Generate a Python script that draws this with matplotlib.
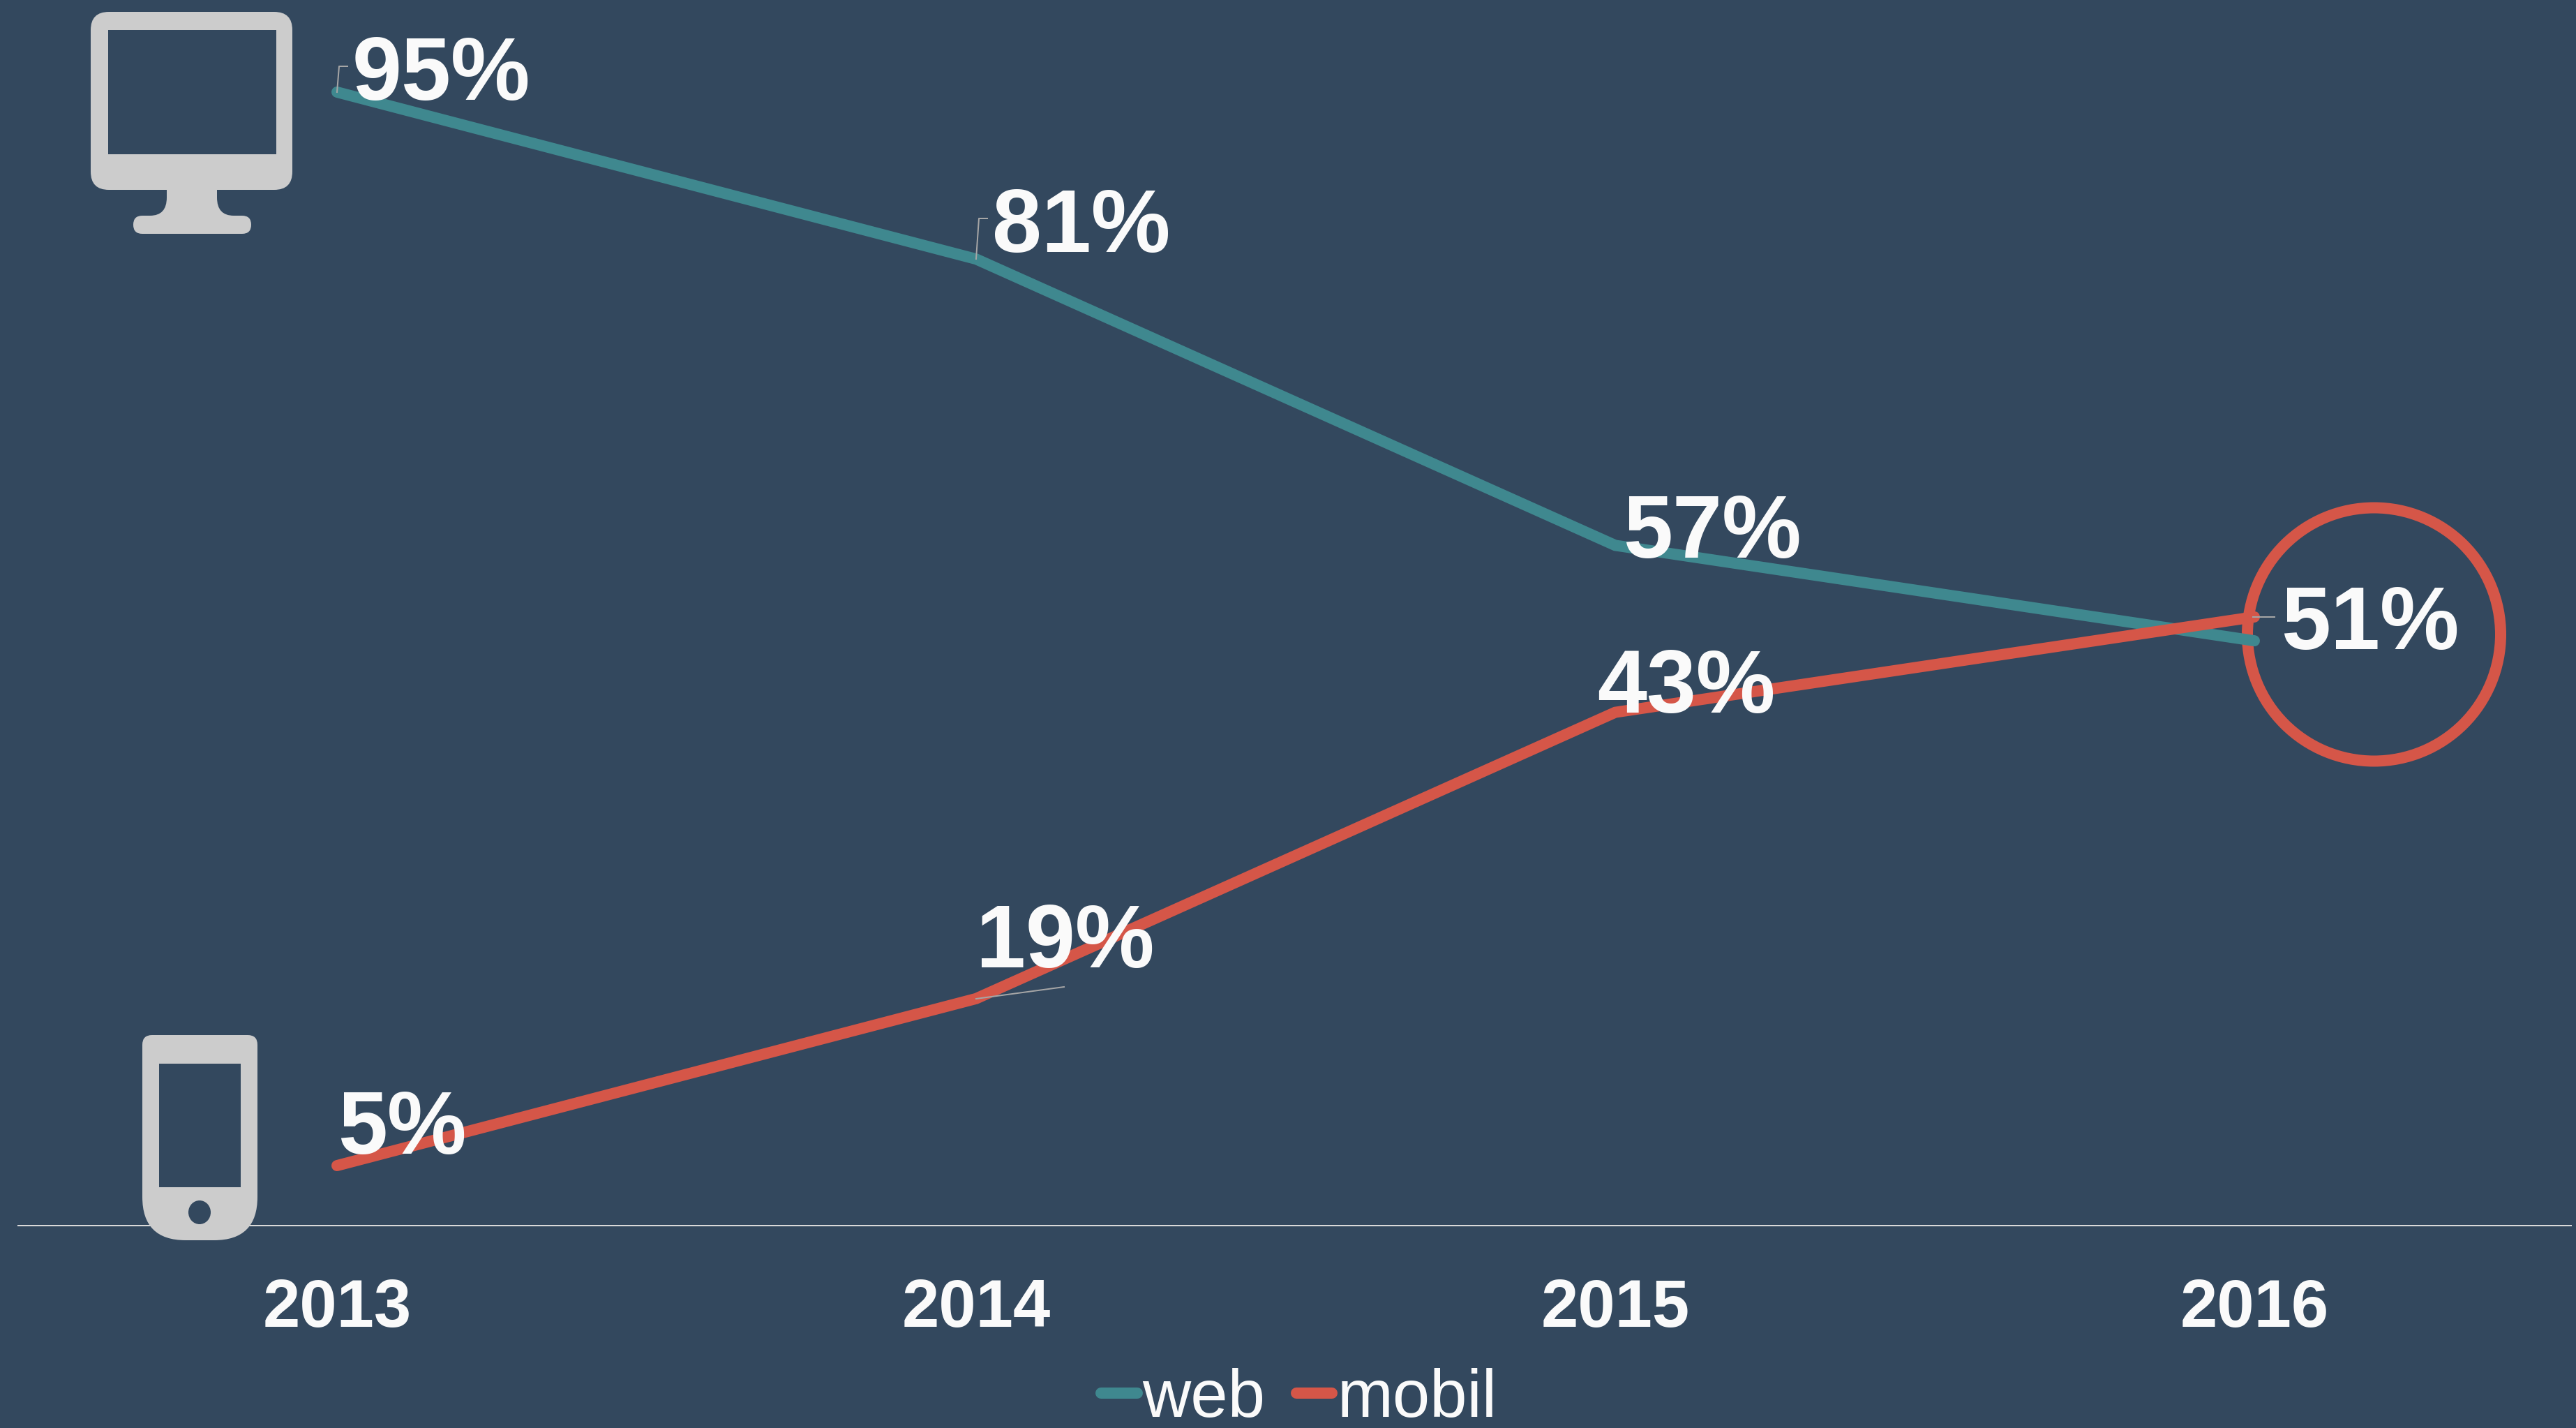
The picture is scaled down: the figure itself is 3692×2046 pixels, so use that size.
import matplotlib
matplotlib.use("Agg")
import matplotlib.pyplot as plt
from matplotlib.path import Path
from matplotlib.patches import Ellipse, PathPatch, Rectangle

plt.rcParams["font.family"] = ["Liberation Sans", "DejaVu Sans"]

years = ["2013", "2014", "2015", "2016"]
web = [95, 81, 57, 49]
mobil = [5, 19, 43, 51]
web_labels = ["95%", "81%", "57%", None]
mobil_labels = ["5%", "19%", "43%", "51%"]

# label offsets from their point, in pixels
web_offsets = [(22, -11), (23, 10), (11, -18), None]
mobil_offsets = [(1, 17), (0, 45), (-26, 0), (38, -46)]

BG = "#33485E"
TEAL = "#3F888F"
RED = "#D55648"
ICON = "#CCCCCC"
WHITE = "#FAFAFA"
LEADER = "#A6A6A6"
WIDTH, HEIGHT = 3692, 2046
PX = 72 / 100


def rounded_path(points):
    # points are (x, y, radius), corners are rounded with quadratic curves
    verts, codes = [], []
    n = len(points)
    for i, (x, y, r) in enumerate(points):
        px, py, _ = points[i - 1]
        nx, ny, _ = points[(i + 1) % n]
        d1 = max(((px - x) ** 2 + (py - y) ** 2) ** 0.5, 1)
        d2 = max(((nx - x) ** 2 + (ny - y) ** 2) ** 0.5, 1)
        start = (x + (px - x) * r / d1, y + (py - y) * r / d1)
        end = (x + (nx - x) * r / d2, y + (ny - y) * r / d2)
        verts += [start, (x, y), end]
        codes += [Path.MOVETO if i == 0 else Path.LINETO, Path.CURVE3, Path.CURVE3]
    verts.append(verts[0])
    codes.append(Path.CLOSEPOLY)
    return Path(verts, codes)


def draw_monitor(ax):
    ax.add_patch(PathPatch(rounded_path([
        (130, 17, 26), (419, 17, 26), (419, 272, 26), (130, 272, 26),
    ]), fc=ICON, ec="none"))
    ax.add_patch(Rectangle((155, 43), 241, 178, fc=BG, ec="none"))
    neck = Path(
        [(239, 268), (311, 268), (311, 283), (311, 309), (335, 309), (215, 309), (239, 309), (239, 283), (239, 268)],
        [Path.MOVETO, Path.LINETO, Path.LINETO, Path.CURVE3, Path.CURVE3, Path.LINETO, Path.CURVE3, Path.CURVE3, Path.CLOSEPOLY],
    )
    ax.add_patch(PathPatch(neck, fc=ICON, ec="none"))
    ax.add_patch(PathPatch(rounded_path([
        (191, 309, 13), (360, 309, 13), (360, 335, 13), (191, 335, 13),
    ]), fc=ICON, ec="none"))


def draw_phone(ax):
    ax.add_patch(PathPatch(rounded_path([
        (204, 1483, 14), (369, 1483, 14), (369, 1777, 62), (204, 1777, 62),
    ]), fc=ICON, ec="none"))
    ax.add_patch(Rectangle((228, 1524), 117, 177, fc=BG, ec="none"))
    ax.add_patch(Ellipse((286, 1737), 32, 34, fc=BG, ec="none"))


fig = plt.figure(figsize=(WIDTH / 100, HEIGHT / 100), dpi=100, facecolor=BG)
ax = fig.add_axes([25 / WIDTH, 1 - 1755.5 / HEIGHT, 3664 / WIDTH, 1709 / HEIGHT])
ax.patch.set_alpha(0)
ax.set_zorder(1)

overlay = fig.add_axes([0, 0, 1, 1])
overlay.set_xlim(0, WIDTH)
overlay.set_ylim(HEIGHT, 0)
overlay.axis("off")
overlay.set_zorder(2)

line_web, = ax.plot(years, web, color=TEAL, lw=16 * PX, solid_capstyle="round", solid_joinstyle="miter", zorder=3, label="web")
line_mobil, = ax.plot(years, mobil, color=RED, lw=16 * PX, solid_capstyle="round", solid_joinstyle="miter", zorder=4, label="mobil")
ax.set_xlim(-0.5, 3.5)
ax.set_ylim(0, 100)
ax.set_yticks([])

for spine in ["top", "left", "right"]:
    ax.spines[spine].set_visible(False)
ax.spines["bottom"].set_color("#D9D9D9")
ax.spines["bottom"].set_linewidth(2 * PX)
ax.spines["bottom"].set_bounds(-0.499, 3.496)
ax.tick_params(axis="x", length=0, pad=76 * PX, labelsize=69, labelcolor=WHITE)
for tick in ax.get_xticklabels():
    tick.set_fontweight("bold")

# circle round the crossover
ax.add_patch(Ellipse((3402.5, 909), 363, 363, fc="none", ec=RED, lw=16 * PX, transform=overlay.transData, zorder=2))

# thin leader lines from the points to their labels
for xs, ys in [
    ([483, 486, 498], [132, 95, 95]),
    ([1399, 1403, 1415], [371, 313, 313]),
    ([1399, 1525], [1431, 1414]),
    ([3229, 3260], [884, 884]),
]:
    ax.plot(xs, ys, color=LEADER, lw=2 * PX, transform=overlay.transData, zorder=5)

for values, labels, offsets in [(web, web_labels, web_offsets), (mobil, mobil_labels, mobil_offsets)]:
    for i, (value, label, offset) in enumerate(zip(values, labels, offsets)):
        if label is None:
            continue
        ax.annotate(label, xy=(i, value), xytext=offset, textcoords="offset pixels",
                    ha="left", va="baseline", fontsize=92, fontweight="bold", color=WHITE, zorder=6)

ax.legend(
    handles=[line_web, line_mobil],
    ncol=2,
    loc="lower center",
    bbox_to_anchor=(1862 / WIDTH, -4 / HEIGHT),
    bbox_transform=fig.transFigure,
    frameon=False,
    fontsize=69,
    labelcolor=WHITE,
    handlelength=0.54,
    handletextpad=0.08,
    columnspacing=0.46,
    borderpad=0,
    borderaxespad=0,
)

draw_monitor(overlay)
draw_phone(overlay)

fig.savefig("out.png", dpi=100, facecolor=BG)
